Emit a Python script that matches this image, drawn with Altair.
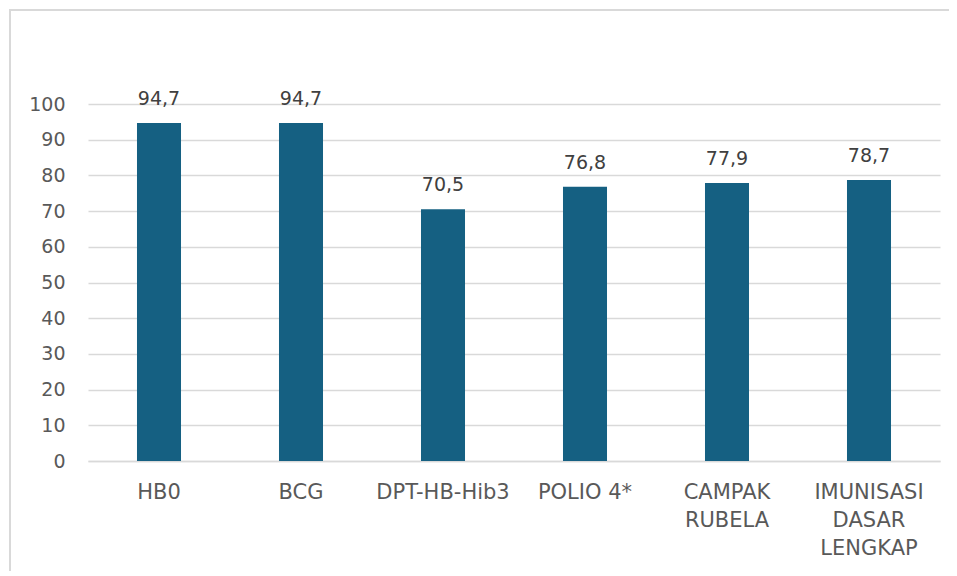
import altair as alt
import pandas as pd

categories = ["HB0", "BCG", "DPT-HB-Hib3", "POLIO 4*", "CAMPAK\nRUBELA", "IMUNISASI\nDASAR\nLENGKAP"]
values = [94.7, 94.7, 70.5, 76.8, 77.9, 78.7]
y_ticks = [0, 10, 20, 30, 40, 50, 60, 70, 80, 90, 100]
labels = [f"{v:.1f}".replace(".", ",") for v in values]

df = pd.DataFrame({"cat": categories, "val": values, "lab": labels})

W, H = 852, 357
FONT = "DejaVu Sans"

border = alt.Chart(pd.DataFrame({"a": [0]})).mark_rect(
    filled=False, stroke="#d9d9d9", strokeWidth=2, clip=False
).encode(
    x=alt.value(-78), x2=alt.value(1000), y=alt.value(-94), y2=alt.value(600)
)

xaxis = alt.Axis(labelAngle=0, labelExpr="split(datum.label, '\\n')",
                 labelFont=FONT, labelFontSize=21, labelColor="#595959",
                 labelPadding=20, labelLineHeight=28, ticks=False,
                 domainColor="#d9d9d9", domainWidth=1.5, grid=False,
                 labelBaseline="top", labelLimit=250, labelOverlap=False)
yaxis = alt.Axis(values=y_ticks, tickCount=11, labelFont=FONT,
                 labelFontSize=19, labelColor="#595959", labelPadding=23,
                 labelOverlap=False, ticks=False, domain=False,
                 gridColor="#d9d9d9", gridWidth=1.5)
xscale = alt.Scale(paddingInner=0.69, paddingOuter=0.345)
yscale = alt.Scale(domain=[0, 100], nice=False)

base = alt.Chart(df)
bars = base.mark_bar(color="#156082").encode(
    x=alt.X("cat:N", sort=categories, title=None, scale=xscale, axis=xaxis),
    y=alt.Y("val:Q", title=None, scale=yscale, axis=yaxis),
)
text = base.mark_text(font=FONT, fontSize=19, color="#404040", baseline="alphabetic", dy=-18).encode(
    x=alt.X("cat:N", sort=categories, title=None, scale=xscale, axis=xaxis),
    y=alt.Y("val:Q", title=None, scale=yscale, axis=yaxis),
    text="lab:N",
)

chart = alt.layer(border, bars, text).properties(
    width=W, height=H,
    autosize=alt.AutoSizeParams(type="none"),
    padding={"left": 80, "top": 96, "right": 9, "bottom": 110},
).configure_view(stroke=None)

chart.save("out.html", embed_options={"renderer": "svg", "actions": False})
